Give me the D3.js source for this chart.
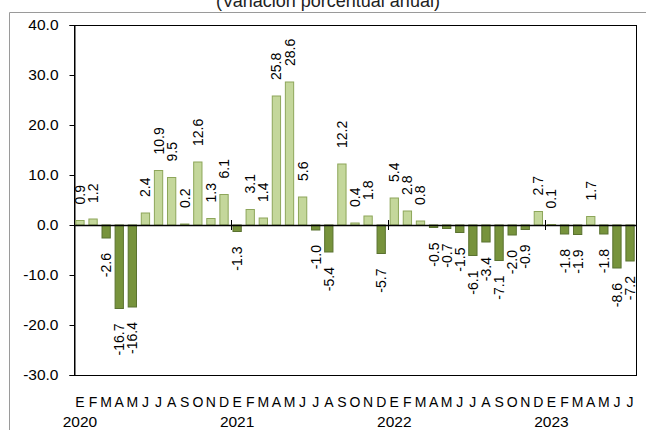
<!DOCTYPE html>
<html>
<head>
<meta charset="utf-8">
<script src="https://cdn.jsdelivr.net/npm/d3@7/dist/d3.min.js"></script>
<style>
  html, body { margin: 0; padding: 0; background: #fff; }
  svg { display: block; font-family: "Liberation Sans", Arial, sans-serif; }
</style>
</head>
<body>
<svg id="chart" width="646" height="430"></svg>
<script>
const title = "(Variación porcentual anual)";
const monthLetters = ["E","F","M","A","M","J","J","A","S","O","N","D"];
const years = ["2020","2021","2022","2023"];
const monthsPerYear = [12, 12, 12, 7];
const values = [
  0.9, 1.2, -2.6, -16.7, -16.4, 2.4, 10.9, 9.5, 0.2, 12.6, 1.3, 6.1,
  -1.3, 3.1, 1.4, 25.8, 28.6, 5.6, -1.0, -5.4, 12.2, 0.4, 1.8, -5.7,
  5.4, 2.8, 0.8, -0.5, -0.7, -1.5, -6.1, -3.4, -7.1, -2.0, -0.9, 2.7,
  0.1, -1.8, -1.9, 1.7, -1.8, -8.6, -7.2
];
const yTicks = [-30, -20, -10, 0, 10, 20, 30, 40];

const fmt = v => d3.format(".1f")(v).replace("\u2212", "-");

// Build category table
const cats = [];
years.forEach((yr, yi) => {
  for (let m = 0; m < monthsPerYear[yi]; m++) {
    cats.push({ id: yr + "-" + m, month: monthLetters[m], year: yr, first: m === 0 });
  }
});
cats.forEach((c, i) => c.value = values[i]);

const svg = d3.select("#chart");
const W = 646, H = 430;
const plot = { left: 74, right: 636, top: 25, bottom: 375 };

// Outer frame
svg.append("line").attr("x1", 9.5).attr("x2", W).attr("y1", 12.5).attr("y2", 12.5)
  .attr("stroke", "#9a9a9a").attr("stroke-width", 1);
svg.append("line").attr("x1", 9.5).attr("x2", 9.5).attr("y1", 12.5).attr("y2", H)
  .attr("stroke", "#9a9a9a").attr("stroke-width", 1);

// Title
svg.append("text").attr("x", 328).attr("y", 7).attr("text-anchor", "middle")
  .attr("font-size", 18).attr("fill", "#222").text(title);

const x = d3.scaleBand().domain(cats.map(c => c.id))
  .range([plot.left, plot.right]).paddingInner(0.29).paddingOuter(0.1);
const y = d3.scaleLinear().domain([-30, 40]).range([plot.bottom, plot.top]);

// Plot border (top, right, bottom)
svg.append("rect").attr("x", plot.left + 0.5).attr("y", plot.top + 0.5)
  .attr("width", plot.right - plot.left).attr("height", plot.bottom - plot.top)
  .attr("fill", "none").attr("stroke", "#000").attr("stroke-width", 1);

// Y axis
const yAxis = svg.append("g").attr("transform", `translate(${plot.left + 0.5},0)`)
  .call(d3.axisLeft(y).tickValues(yTicks).tickFormat(fmt).tickSize(5).tickPadding(11));
yAxis.select(".domain").attr("stroke", "#000");
yAxis.selectAll(".tick line").attr("stroke", "#000");
yAxis.selectAll(".tick text").attr("font-size", 15.5).attr("fill", "#000")
  .attr("font-family", "'Liberation Sans', Arial, sans-serif");

// Bars
svg.append("g").selectAll("rect").data(cats).join("rect")
  .attr("x", d => x(d.id) + 0.5)
  .attr("width", x.bandwidth() - 1)
  .attr("y", d => Math.min(y(d.value), y(0)))
  .attr("height", d => Math.abs(y(d.value) - y(0)))
  .attr("fill", d => d.value >= 0 ? "#c4d79b" : "#77933c")
  .attr("stroke", d => d.value >= 0 ? "#8da65a" : "#5a7230")
  .attr("stroke-width", 1);

// Zero line
svg.append("line").attr("x1", plot.left).attr("x2", plot.right)
  .attr("y1", y(0) + 0.5).attr("y2", y(0) + 0.5).attr("stroke", "#000").attr("stroke-width", 1.3);

// Year separator ticks
const gapHalf = (x.step() - x.bandwidth()) / 2;
svg.append("g").selectAll("line").data(cats.filter((c, i) => c.first && i > 0)).join("line")
  .attr("x1", d => Math.round(x(d.id) - gapHalf) + 0.5)
  .attr("x2", d => Math.round(x(d.id) - gapHalf) + 0.5)
  .attr("y1", y(0) - 5).attr("y2", y(0) + 5)
  .attr("stroke", "#000").attr("stroke-width", 1);

// Data labels (rotated)
svg.append("g").selectAll("text").data(cats).join("text")
  .attr("transform", d => {
    const cx = x(d.id) + x.bandwidth() / 2;
    const cy = d.value >= 0 ? y(d.value) - 16 : y(d.value) + 15;
    return `translate(${cx},${cy}) rotate(-90)`;
  })
  .attr("text-anchor", d => d.value >= 0 ? "start" : "end")
  .attr("dominant-baseline", "central")
  .attr("font-size", 14).attr("fill", "#000")
  .text(d => fmt(d.value));

// Month labels
svg.append("g").selectAll("text").data(cats).join("text")
  .attr("x", d => x(d.id) + x.bandwidth() / 2)
  .attr("y", 407)
  .attr("text-anchor", "middle").attr("font-size", 14).attr("fill", "#000")
  .text(d => d.month);

// Year labels
svg.append("g").selectAll("text").data(cats.filter(c => c.first)).join("text")
  .attr("x", d => x(d.id) + x.bandwidth() / 2)
  .attr("y", 427)
  .attr("text-anchor", "middle").attr("font-size", 15.5).attr("fill", "#000")
  .text(d => d.year);
</script>
</body>
</html>
